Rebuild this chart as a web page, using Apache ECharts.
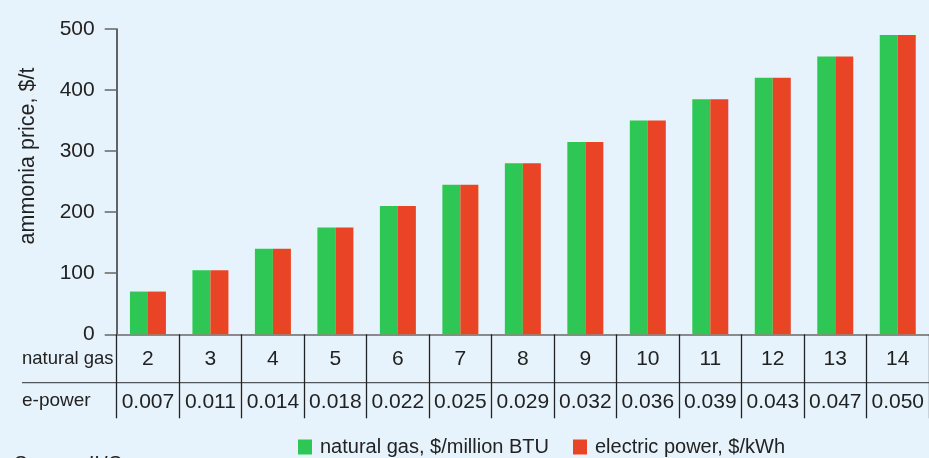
<!DOCTYPE html>
<html>
<head>
<meta charset="utf-8">
<script src="https://cdn.jsdelivr.net/npm/echarts@6/dist/echarts.min.js"></script>
<style>
html,body{margin:0;padding:0;background:#e7f3fc;}
#chart{width:929px;height:458px;}
</style>
</head>
<body>
<div id="chart"></div>
<script>
// gas price $/million BTU and matching power price $/kWh
var gasPrices = ['2','3','4','5','6','7','8','9','10','11','12','13','14'];
var powerPrices = ['0.007','0.011','0.014','0.018','0.022','0.025','0.029','0.032','0.036','0.039','0.043','0.047','0.050'];
// ammonia price, $/t
var gasAmmonia = [70,105,140,175,210,245,280,315,350,385,420,455,490];
var powerAmmonia = [70,105,140,175,210,245,280,315,350,385,420,455,490];
var yTicks = [0,100,200,300,400,500];

var font = 'Liberation Sans, Arial, sans-serif';
var txt = '#222';

var myChart = echarts.init(document.getElementById('chart'));
var option = {
	backgroundColor:'#e7f3fc',
	animation:false,
	color:['#2ec654','#ea4426'],
	grid:{
		left:116.7,
		right:-9.3,
		top:29,
		bottom:123.7
	},
	legend:{
		left:293,
		top:432,
		icon:'rect',
		itemWidth:14,
		itemHeight:15,
		itemGap:24,
		textStyle:{fontFamily:font,fontSize:20,color:txt,padding:[0,0,0,3]},
		data:['natural gas, $/million BTU','electric power, $/kWh']
	},
	xAxis:[{
		type:'category',
		data:gasPrices,
		axisLine:{lineStyle:{color:'#8a8a8a',width:2}},
		axisTick:{show:true,alignWithLabel:false,length:84,interval:0,lineStyle:{color:'#222',width:1.3}},
		axisLabel:{
			interval:0,
			margin:3,
			fontFamily:font,
			color:txt,
			formatter:function(value,index){
				return '{g|'+value+'}\n{p|'+powerPrices[index]+'}';
			},
			rich:{
				g:{fontFamily:font,fontSize:21,color:txt,lineHeight:43},
				p:{fontFamily:font,fontSize:21,color:txt,lineHeight:43}
			}
		}
	}],
	yAxis:{
		type:'value',
		min:yTicks[0],
		max:yTicks[yTicks.length-1],
		interval:100,
		splitLine:{show:false},
		axisLine:{show:true,lineStyle:{color:'#333',width:1.5}},
		axisTick:{show:true,length:12,lineStyle:{color:'#666',width:1.5}},
		axisLabel:{margin:22,fontFamily:font,fontSize:21,color:txt}
	},
	graphic:[
		{type:'text',x:28,y:156,rotation:Math.PI/2,
			style:{text:'ammonia price, $/t',fontFamily:font,fontSize:21.5,fill:txt,align:'center',verticalAlign:'middle'}},
		{type:'text',x:22,y:359,
			style:{text:'natural gas',fontFamily:font,fontSize:18.5,fill:txt,align:'left',verticalAlign:'middle'}},
		{type:'text',x:22,y:401,
			style:{text:'e-power',fontFamily:font,fontSize:19,fill:txt,align:'left',verticalAlign:'middle'}},
		{type:'line',shape:{x1:22,y1:382.7,x2:929,y2:382.7},
			style:{stroke:'#555',lineWidth:1.2}},
		{type:'text',x:13,y:454,
			style:{text:'Source: IHS',fontFamily:font,fontSize:20,fontStyle:'italic',fill:txt,align:'left',verticalAlign:'top'}}
	],
	series:[
		{name:'natural gas, $/million BTU',type:'bar',barWidth:18,barGap:0,data:gasAmmonia},
		{name:'electric power, $/kWh',type:'bar',barWidth:18,barGap:0,data:powerAmmonia}
	]
};
myChart.setOption(option);
window.onresize = myChart.resize;
</script>
</body>
</html>
